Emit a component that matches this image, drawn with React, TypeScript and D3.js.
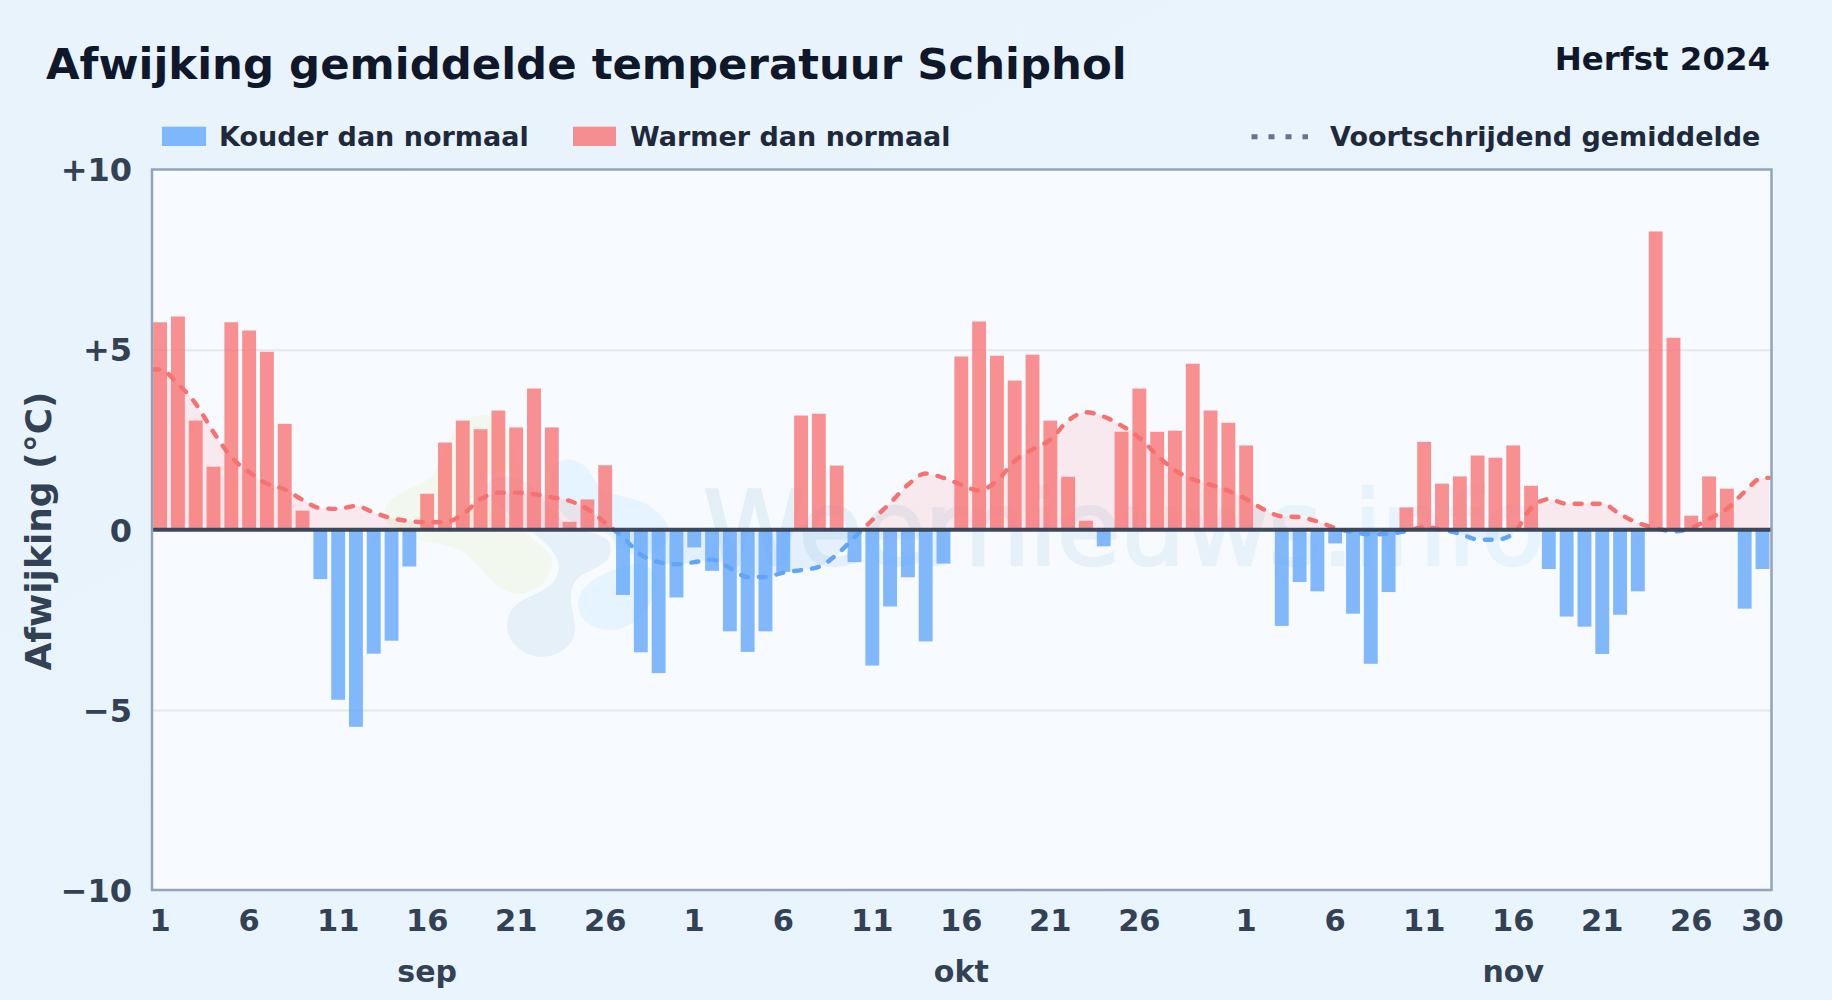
import { useEffect, useRef } from "react";
import * as d3 from "d3";

const width = 1832;
const height = 1000;

const plot = { left: 152, right: 1771.5, top: 169.5, bottom: 890 };

// afwijking per dag (graden C)
const sepValues = [
  5.76, 5.92, 3.03, 1.75, 5.76, 5.53, 4.94, 2.94, 0.53, -1.37, -4.72, -5.47, -3.44, -3.08, -1.02,
  1.0, 2.42, 3.03, 2.79, 3.31, 2.84, 3.92, 2.84, 0.22, 0.84, 1.79, -1.81, -3.4, -3.98, -1.88,
];
const oktValues = [
  -0.49, -1.14, -2.82, -3.39, -2.82, -1.17, 3.17, 3.22, 1.78, -0.9, -3.77, -2.13, -1.32, -3.1, -0.94,
  4.81, 5.78, 4.83, 4.14, 4.86, 3.03, 1.47, 0.25, -0.46, 2.72, 3.92, 2.72, 2.75, 4.61, 3.31, 2.97,
];
const novValues = [
  2.34, 0, -2.67, -1.45, -1.71, -0.38, -2.33, -3.72, -1.73, 0.62, 2.44, 1.28, 1.48, 2.06, 2.0,
  2.34, 1.22, -1.09, -2.41, -2.69, -3.45, -2.36, -1.71, 8.28, 5.33, 0.39, 1.48, 1.14, -2.19, -1.09,
];

// voortschrijdend gemiddelde
const sepAverage = [
  4.45, 4.05, 3.5, 2.71, 2.02, 1.6, 1.28, 1.12, 0.83, 0.6, 0.58, 0.66, 0.48, 0.32, 0.24,
  0.21, 0.21, 0.43, 0.85, 1.03, 1.03, 0.99, 0.9, 0.8, 0.58, 0.19, -0.21, -0.69, -0.9, -0.96,
];
const oktAverage = [
  -0.9, -0.83, -1.06, -1.31, -1.31, -1.19, -1.12, -1.03, -0.69, -0.21, 0.27, 0.74, 1.25, 1.56, 1.44,
  1.25, 1.09, 1.36, 1.91, 2.23, 2.5, 3.03, 3.26, 3.14, 2.89, 2.55, 2.07, 1.65, 1.4, 1.25, 1.08,
];
const novAverage = [
  0.85, 0.56, 0.37, 0.35, 0.23, 0.05, -0.07, -0.13, -0.11, -0.04, 0.08, 0, -0.11, -0.27, -0.28,
  -0.11, 0.6, 0.85, 0.72, 0.72, 0.72, 0.43, 0.19, 0.05, -0.05, 0.05, 0.3, 0.58, 1.06, 1.44,
];

const months = [
  { name: "sep", days: sepValues.length, ticks: [1, 6, 11, 16, 21, 26] },
  { name: "okt", days: oktValues.length, ticks: [1, 6, 11, 16, 21, 26] },
  { name: "nov", days: novValues.length, ticks: [1, 6, 11, 16, 21, 26, 30] },
];
const yTicks = [-10, -5, 0, 5, 10];
const gridTicks = [-5, 5];

const values = [...sepValues, ...oktValues, ...novValues];
const averages = [...sepAverage, ...oktAverage, ...novAverage];

// logo in de achtergrond, grove vormen
const logoBlobs = [
  {
    fill: "#f2f8ee",
    points: [
      [50, 310], [150, 255], [235, 225], [260, 80], [360, 20], [460, 70], [490, 250], [530, 390],
      [600, 470], [560, 570], [460, 605], [375, 540], [310, 445], [190, 435], [80, 400],
    ],
  },
  {
    fill: "#e5f4fe",
    points: [
      [590, 150], [700, 190], [715, 280], [840, 280], [950, 370], [925, 465], [770, 490], [640, 560],
      [645, 670], [760, 715], [875, 650], [915, 500], [800, 470], [640, 400], [540, 270],
    ],
  },
  {
    fill: "#e6f0f8",
    points: [
      [325, 260], [430, 205], [540, 250], [610, 390], [765, 390], [765, 500], [640, 530], [635, 610],
      [670, 725], [560, 795], [455, 755], [420, 665], [470, 590], [570, 565], [610, 480], [500, 390],
    ],
  },
];

export default function App() {
  const svgRef = useRef<SVGSVGElement | null>(null);

  useEffect(() => {
    if (!svgRef.current) return;
    const svg = d3.select(svgRef.current);

    const x = d3
      .scaleBand<number>()
      .domain(d3.range(values.length))
      .range([151.2, 1771.4])
      .paddingInner(0.22)
      .paddingOuter(0.11);
    const y = d3.scaleLinear().domain([-10, 10]).range([plot.bottom, plot.top]);
    const cx = (i: number) => (x(i) ?? 0) + x.bandwidth() / 2;

    // logo en watermerk
    const blob = d3.line().curve(d3.curveBasisClosed);
    svg
      .select(".logo")
      .attr("transform", "translate(360,400) scale(0.3333)")
      .selectAll("path")
      .data(logoBlobs)
      .join("path")
      .attr("d", (d) => blob(d.points as [number, number][]))
      .attr("fill", (d) => d.fill)
      .attr("stroke", "#f7fbff")
      .attr("stroke-width", 14);

    // grid
    svg
      .select<SVGGElement>(".grid")
      .attr("transform", `translate(${plot.left},0)`)
      .call(d3.axisLeft(y).tickValues(gridTicks).tickSize(plot.left - plot.right).tickFormat(() => ""))
      .call((g) => g.select(".domain").remove())
      .selectAll("line")
      .attr("stroke", "#e2e8f0")
      .attr("stroke-width", 2);

    // lijn loopt door tot de rand van het vlak
    const linePoints: [number, number][] = averages.map((v, i) => [cx(i), v]);
    linePoints.unshift([plot.left, averages[0]]);
    linePoints.push([1769, averages[averages.length - 1]]);

    const area = d3
      .area<[number, number]>()
      .x((d) => d[0])
      .y0(y(0))
      .y1((d) => y(d[1]))
      .curve(d3.curveMonotoneX);
    const line = d3
      .line<[number, number]>()
      .x((d) => d[0])
      .y((d) => y(d[1]))
      .curve(d3.curveMonotoneX);

    svg.select("#clip-warm rect")
      .attr("x", plot.left).attr("y", plot.top)
      .attr("width", plot.right - plot.left).attr("height", y(0) - plot.top);
    svg.select("#clip-cold rect")
      .attr("x", plot.left).attr("y", y(0))
      .attr("width", plot.right - plot.left).attr("height", plot.bottom - y(0));

    svg.select(".area-warm").attr("d", area(linePoints)).attr("fill", "#f87171").attr("opacity", 0.13);
    svg.select(".area-cold").attr("d", area(linePoints)).attr("fill", "#60a5fa").attr("opacity", 0.12);

    // bars
    svg
      .select(".bars")
      .selectAll("rect")
      .data(values)
      .join("rect")
      .attr("x", (_, i) => x(i) ?? 0)
      .attr("width", x.bandwidth())
      .attr("y", (d) => y(Math.max(d, 0)))
      .attr("height", (d) => Math.abs(y(d) - y(0)))
      .attr("fill", (d) => (d < 0 ? "#60a5fa" : "#f87171"))
      .attr("opacity", 0.78);

    for (const [cls, color] of [
      ["line-warm", "#f87171"],
      ["line-cold", "#60a5fa"],
    ]) {
      svg
        .select(`.${cls}`)
        .attr("d", line(linePoints))
        .attr("fill", "none")
        .attr("stroke", color)
        .attr("stroke-width", 4.4)
        .attr("stroke-linecap", "round")
        .attr("stroke-dasharray", "7 11");
    }

    svg
      .select(".zero")
      .attr("x1", plot.left)
      .attr("x2", plot.right)
      .attr("y1", y(0))
      .attr("y2", y(0))
      .attr("stroke", "#334155")
      .attr("stroke-width", 4)
      .attr("opacity", 0.95);

    svg
      .select(".frame")
      .attr("x", plot.left)
      .attr("y", plot.top)
      .attr("width", plot.right - plot.left)
      .attr("height", plot.bottom - plot.top)
      .attr("fill", "none")
      .attr("stroke", "#94a3b8")
      .attr("stroke-width", 2.5);

    // y as
    svg
      .select<SVGGElement>(".y-axis")
      .attr("transform", `translate(${plot.left},1)`)
      .call(
        d3
          .axisLeft(y)
          .tickValues(yTicks)
          .tickSize(0)
          .tickPadding(20)
          .tickFormat((d) => {
            const v = +d;
            if (v === 0) return "0";
            return v > 0 ? `+${v}` : `\u2212${-v}`;
          }),
      )
      .call((g) => g.select(".domain").remove())
      .selectAll("text")
      .attr("fill", "#334155")
      .style("font-size", "32px")
      .style("font-weight", "700")
      .style("font-family", "'DejaVu Sans'");

    // x as: dagnummers per maand
    let offset = 0;
    const tickIndex: number[] = [];
    const tickLabel = new Map<number, string>();
    const monthCenter: { name: string; i: number }[] = [];
    months.forEach((m) => {
      m.ticks.forEach((t) => {
        tickIndex.push(offset + t - 1);
        tickLabel.set(offset + t - 1, String(t));
      });
      monthCenter.push({ name: m.name, i: offset + 15 });
      offset += m.days;
    });

    svg
      .select<SVGGElement>(".x-axis")
      .attr("transform", `translate(0,${plot.bottom})`)
      .call(
        d3
          .axisBottom(x)
          .tickValues(tickIndex)
          .tickSize(0)
          .tickPadding(19)
          .tickFormat((d) => tickLabel.get(d as number) ?? ""),
      )
      .call((g) => g.select(".domain").remove())
      .selectAll("text")
      .attr("fill", "#334155")
      .style("font-size", "30.5px")
      .style("font-weight", "700")
      .style("font-family", "'DejaVu Sans'");

    svg
      .select(".months")
      .selectAll("text")
      .data(monthCenter)
      .join("text")
      .attr("x", (d) => cx(d.i))
      .attr("y", 982)
      .attr("text-anchor", "middle")
      .attr("fill", "#334155")
      .style("font-size", "30px")
      .style("font-weight", "700")
      .text((d) => d.name);
  }, []);

  return (
    <>
      <style>{"body{margin:0}"}</style>
      <svg
        ref={svgRef}
        width={width}
        height={height}
        viewBox={`0 0 ${width} ${height}`}
        style={{ display: "block", fontFamily: "'DejaVu Sans'" }}
      >
        <defs>
          <linearGradient id="page-bg" x1="0" y1="0" x2="1" y2="1">
            <stop offset="0" stopColor="#e8f3fc" />
            <stop offset="1" stopColor="#eaf4fc" />
          </linearGradient>
          <linearGradient id="mark-fill" x1="0" y1="0" x2="1" y2="0">
            <stop offset="0" stopColor="#e4eef7" />
            <stop offset="1" stopColor="#e8f4fd" />
          </linearGradient>
          <clipPath id="clip-warm">
            <rect />
          </clipPath>
          <clipPath id="clip-cold">
            <rect />
          </clipPath>
        </defs>

        <rect width={width} height={height} fill="url(#page-bg)" />
        <rect
          x={plot.left}
          y={plot.top}
          width={plot.right - plot.left}
          height={plot.bottom - plot.top}
          fill="#f7fbff"
        />

        <g className="logo" />
        <text
          x={703}
          y={565}
          fill="url(#mark-fill)"
          stroke="url(#mark-fill)"
          strokeWidth={2.5}
          fontSize={104}
          textLength={842}
          lengthAdjust="spacing"
        >
          Weernieuws.info
        </text>

        <g className="grid" />
        <path className="area-warm" clipPath="url(#clip-warm)" />
        <path className="area-cold" clipPath="url(#clip-cold)" />
        <g className="bars" />
        <path className="line-warm" clipPath="url(#clip-warm)" />
        <path className="line-cold" clipPath="url(#clip-cold)" />
        <line className="zero" />
        <rect className="frame" />
        <g className="y-axis" />
        <g className="x-axis" />
        <g className="months" />

        <text x={46} y={79} fill="#0f172a" fontSize={43.4} fontWeight={700}>
          Afwijking gemiddelde temperatuur Schiphol
        </text>
        <text x={1770} y={70} fill="#0f172a" fontSize={32.4} fontWeight={700} textAnchor="end">
          Herfst 2024
        </text>

        <rect x={162} y={126.7} width={44} height={19.3} fill="#60a5fa" opacity={0.78} />
        <text x={219} y={145.5} fill="#1e293b" fontSize={27} fontWeight={700}>
          Kouder dan normaal
        </text>
        <rect x={573} y={126.7} width={43} height={19.3} fill="#f87171" opacity={0.78} />
        <text x={630} y={145.5} fill="#1e293b" fontSize={27} fontWeight={700}>
          Warmer dan normaal
        </text>
        <line
          x1={1251.5}
          x2={1308}
          y1={136.8}
          y2={136.8}
          stroke="#64748b"
          strokeWidth={5}
          strokeDasharray="6 11"
        />
        <text x={1330} y={145.5} fill="#1e293b" fontSize={27} fontWeight={700}>
          Voortschrijdend gemiddelde
        </text>

        <text
          transform="translate(50.5,531) rotate(-90)"
          textAnchor="middle"
          fill="#334155"
          fontSize={36}
          fontWeight={700}
        >
          Afwijking (°C)
        </text>
      </svg>
    </>
  );
}
